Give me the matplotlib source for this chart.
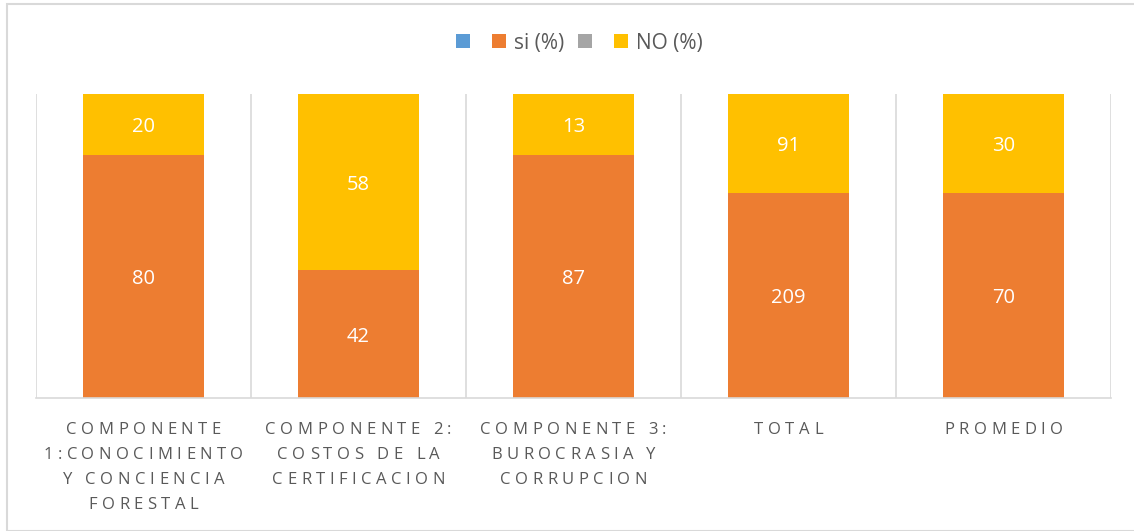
import numpy as np
import matplotlib.pyplot as plt
from matplotlib.patches import Rectangle
from matplotlib.font_manager import FontProperties

plt.rcParams['font.family'] = ['Open Sans', 'DejaVu Sans']

categories = ['COMPONENTE\n1:CONOCIMIENTO\nY CONCIENCIA\nFORESTAL',
              'COMPONENTE 2:\nCOSTOS DE LA\nCERTIFICACION',
              'COMPONENTE 3:\nBUROCRASIA Y\nCORRUPCION',
              'TOTAL',
              'PROMEDIO']
# numbers written in the data labels
si_labels = [80, 42, 87, 209, 70]
no_labels = [20, 58, 13, 91, 30]
# segment shares as drawn (percent of bar height)
si_share = [80, 42, 80, 67.5, 67.5]
no_share = [20, 58, 20, 32.5, 32.5]

blue = '#5B9BD5'
orange = '#ED7D31'
gray = '#A5A5A5'
yellow = '#FFC000'
txt_gray = '#595959'

W, H = 1134, 531
fig = plt.figure(figsize=(W / 100, H / 100), dpi=100)
ax = fig.add_axes([36 / W, 1 - 398 / H, (1111 - 36) / W, (398 - 94) / H])

si = np.array(si_share) / 100
no = np.array(no_share) / 100
x = np.arange(len(categories))
w = 0.56

# empty series, only visible in the legend
h_blue = ax.bar(x, np.zeros(len(x)), w, color=blue)
h_si = ax.bar(x, si, w, color=orange)
h_gray = ax.bar(x, np.zeros(len(x)), w, color=gray)
h_no = ax.bar(x, no, w, bottom=si, color=yellow)

for i in range(len(x)):
    ax.text(x[i], si[i] / 2, str(si_labels[i]), ha='center', va='center_baseline',
            color='white', fontsize=14.5)
    ax.text(x[i], si[i] + no[i] / 2, str(no_labels[i]), ha='center',
            va='center_baseline', color='white', fontsize=14.5)

ax.set_xlim(-0.5, len(x) - 0.5)
ax.set_ylim(0, 1)
ax.set_yticks([])
ax.set_xticks([])
for b in np.arange(-0.5, len(x), 1.0):
    ax.axvline(b, color='#d9d9d9', lw=1.2, zorder=0)
for s in ['top', 'right', 'left']:
    ax.spines[s].set_visible(False)
ax.spines['bottom'].set_color('#d9d9d9')
ax.spines['bottom'].set_linewidth(1.2)

# category labels with wide letter spacing, placed char by char
fp = FontProperties(family='Open Sans', size=12)
renderer = fig.canvas.get_renderer()
tracking = 4.5


def adv(ch):
    wa = renderer.get_text_width_height_descent('HH', fp, ismath=False)[0]
    wc = renderer.get_text_width_height_descent('H' + ch + 'H', fp, ismath=False)[0]
    return wc - wa


x0_px, x1_px = 36, 1111
step = (x1_px - x0_px) / len(categories)
for i, lab in enumerate(categories):
    cx = x0_px + step * (i + 0.5)
    for k, line in enumerate(lab.split('\n')):
        advs = [adv(c) for c in line]
        total = sum(advs) + tracking * (len(line) - 1)
        cur = cx - total / 2
        base_y = 434 + 25 * k
        for c, a in zip(line, advs):
            if c != ' ':
                fig.text((cur + a / 2) / W, 1 - base_y / H, c, fontproperties=fp,
                         color=txt_gray, ha='center', va='baseline')
            cur += a + tracking

fig.legend([h_blue, h_si, h_gray, h_no], ['', 'si (%)', '', 'NO (%)'],
           loc='center', bbox_to_anchor=(0.511, 0.919), ncol=4, frameon=False,
           fontsize=15, handlelength=0.67, handleheight=0.67, handletextpad=0.4,
           columnspacing=0.65, labelcolor=txt_gray)

fig.patches.append(Rectangle((7 / W, 0), 1.2, 1 - 4 / H, transform=fig.transFigure,
                             fill=False, edgecolor='#d9d9d9', lw=1.5))

fig.savefig('out.png', dpi=100)
